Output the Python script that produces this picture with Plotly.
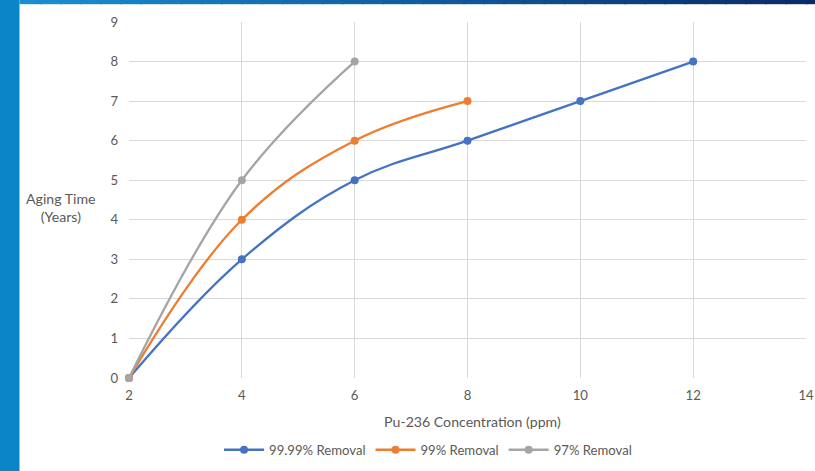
import plotly.graph_objects as go

x_a = [2, 4, 6, 8, 10, 12]
y_a = [0, 3, 5, 6, 7, 8]
x_b = [2, 4, 6, 8]
y_b = [0, 4, 6, 7]
x_c = [2, 4, 6]
y_c = [0, 5, 8]
names = ["99.99% Removal", "99% Removal", "97% Removal"]
colors = ["#4472C4", "#ED7D31", "#A5A5A5"]

S = 1 / 0.9894
W0, H0 = 815, 471
W, H = round(W0 * S), round(H0 * S)
L, R, T, B = round(128 * S), round(10 * S), round(22 * S), round(94 * S)
pw, ph = W - L - R, H - T - B

fig = go.Figure()
for xs, ys, n, c in zip([x_a, x_b, x_c], [y_a, y_b, y_c], names, colors):
    fig.add_trace(go.Scatter(x=xs, y=ys, name=n, mode="lines+markers",
                             line=dict(color=c, width=2.3, shape="spline", smoothing=1.1),
                             marker=dict(color=c, size=8), cliponaxis=False))

def px_x(p):
    return (p * S - L) / pw

def px_y(p):
    return (H - B - p * S) / ph

shapes = []
shapes.append(dict(type="rect", xref="paper", yref="paper", x0=px_x(-2), x1=px_x(18),
                   y0=px_y(H0 + 6), y1=px_y(-2), fillcolor="#0A86C8", line=dict(width=0), layer="below"))
n = 40
c0 = (0x1A, 0x8E, 0xD2)
c1 = (0x0A, 0x2A, 0x66)
for i in range(n):
    t = i / (n - 1)
    col = "rgb(%d,%d,%d)" % tuple(int(c0[k] + (c1[k] - c0[k]) * t) for k in range(3))
    shapes.append(dict(type="rect", xref="paper", yref="paper",
                       x0=px_x(18 + (W0 + 10 - 18) * i / n), x1=px_x(18 + (W0 + 10 - 18) * (i + 1) / n + 2),
                       y0=px_y(4), y1=px_y(-2), fillcolor=col, line=dict(width=0), layer="below"))

font = "Lato, 'Open Sans', sans-serif"
fs = 13 * S
fig.update_layout(
    width=W, height=H, margin=dict(l=L, r=R, t=T, b=B),
    paper_bgcolor="white", plot_bgcolor="white",
    font=dict(family=font, color="#595959", size=fs),
    shapes=shapes,
    xaxis=dict(range=[2, 14], dtick=2, showgrid=True, gridcolor="#D9D9D9", gridwidth=1,
               zeroline=False, showline=False, ticks="", ticklabelstandoff=8,
               tickfont=dict(size=fs, color="#595959")),
    yaxis=dict(range=[0, 9], dtick=1, showgrid=True, gridcolor="#D9D9D9", gridwidth=1,
               zeroline=False, showline=False, ticks="", ticklabelstandoff=10,
               tickfont=dict(size=fs, color="#595959")),
    legend=dict(orientation="h", x=px_x(427), xanchor="center", y=px_y(449), yanchor="middle",
                font=dict(size=fs, color="#595959"), itemwidth=40, traceorder="normal"),
    annotations=[
        dict(text="Aging Time<br>(Years)", xref="paper", yref="paper", x=px_x(60), y=px_y(207),
             xanchor="center", yanchor="middle",
             showarrow=False, font=dict(size=14 * S, color="#595959")),
        dict(text="Pu-236 Concentration (ppm)", xref="paper", yref="paper", x=px_x(472), y=px_y(420),
             xanchor="center", yanchor="middle",
             showarrow=False, font=dict(size=14 * S, color="#595959")),
    ],
)
fig.write_html("out.html")
